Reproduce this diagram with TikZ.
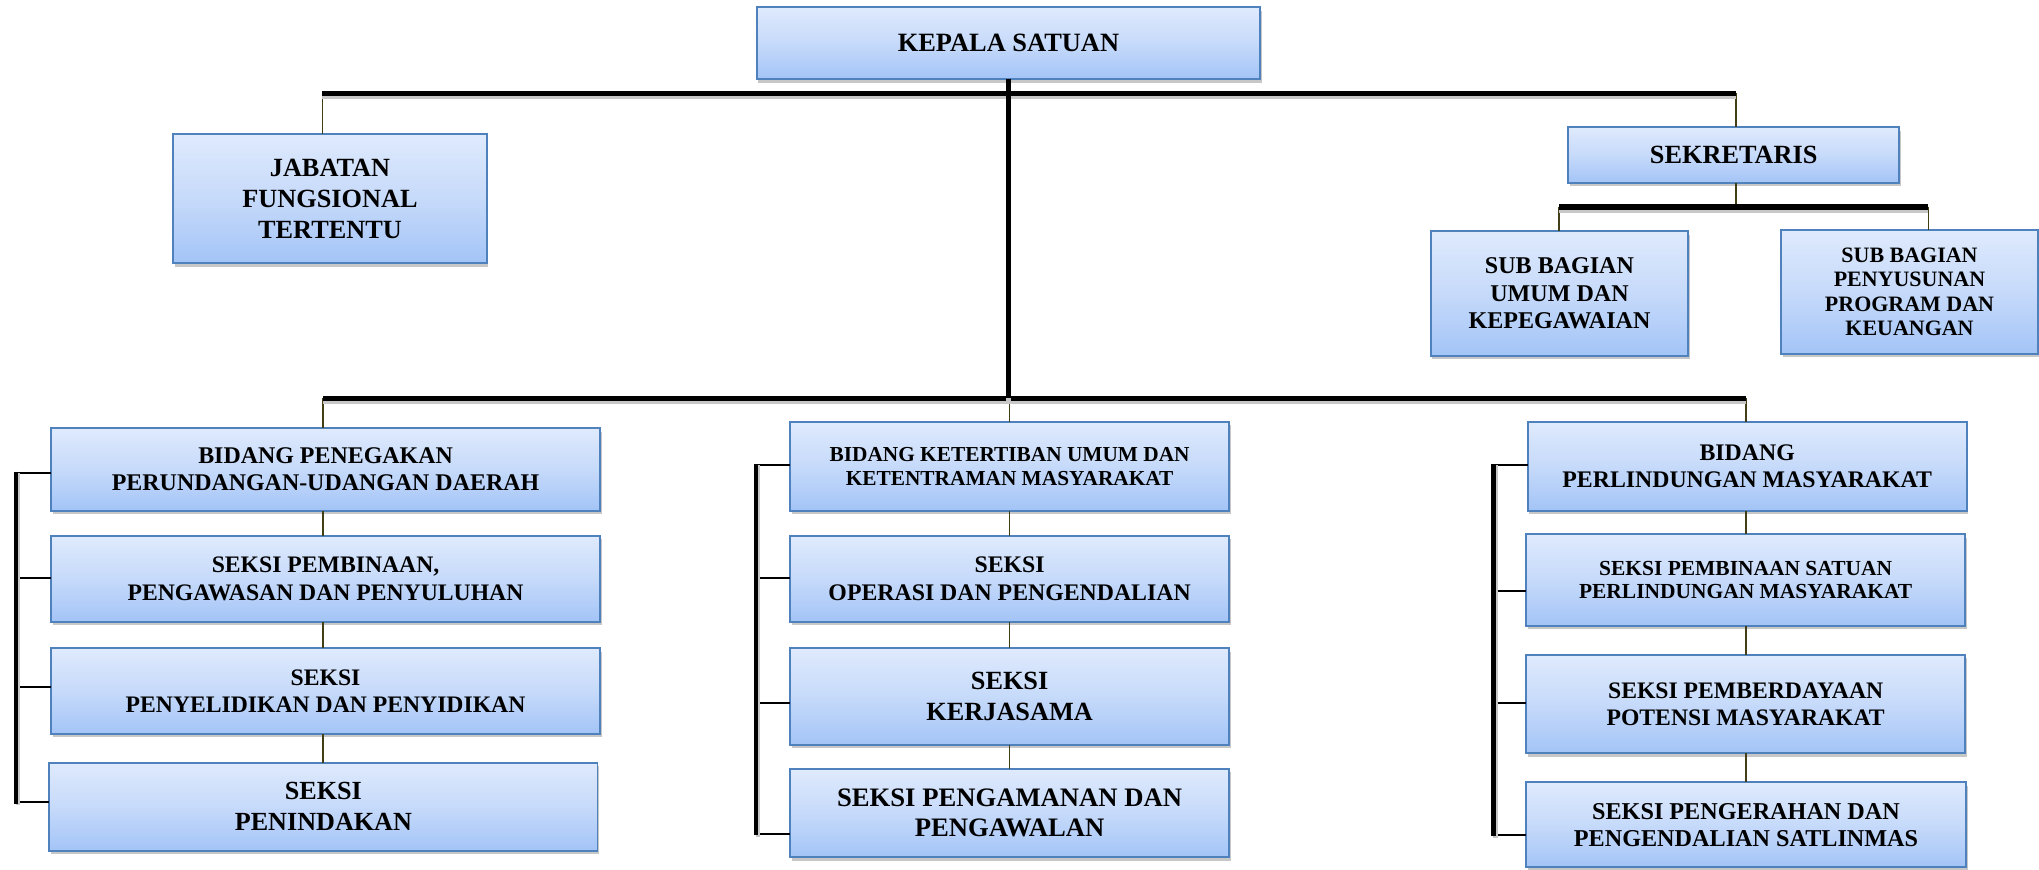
\documentclass[tikz,border=0pt]{standalone}
\usepackage{fontspec}
\setmainfont{Liberation Serif}
\usetikzlibrary{shadows}
\definecolor{boxtop}{RGB}{223,234,253}
\definecolor{boxmid}{RGB}{198,218,250}
\definecolor{boxbot}{RGB}{163,196,247}
\definecolor{boxline}{RGB}{79,129,189}
\definecolor{conn}{RGB}{66,62,22}
\newcommand{\fsz}[2]{\fontsize{#1}{#2}\selectfont\bfseries}
\tikzset{
  orgbox/.style={draw=boxline, line width=1.4pt, top color=boxtop, bottom color=boxbot,
    middle color=boxmid, inner sep=0pt, outer sep=0pt, align=center,
    drop shadow={shadow xshift=1.2pt, shadow yshift=-2.6pt, fill=black, opacity=0.22}},
  bus/.style={line width=4.3pt, draw=black,
    preaction={draw=black!22, line width=4.3pt, transform canvas={yshift=-2.2pt}}},
  bracketline/.style={line width=3.6pt, draw=black,
    preaction={draw=black!22, line width=3.6pt, transform canvas={xshift=1.6pt,yshift=-1.2pt}}},
  tickline/.style={line width=1.7pt, draw=black},
  link/.style={line width=1.2pt, draw=conn}
}
\begin{document}
\begin{tikzpicture}[x=1pt,y=-1pt]
\useasboundingbox (0,0) rectangle (1568,669);
\fill[white] (0,0) rectangle (1568,669);

% ---------- top level ----------
\node[orgbox, minimum width=387pt, minimum height=55.4pt, font=\fsz{20.3}{23.7}]
  (kepala) at (775.5,33.3) {KEPALA SATUAN};
\node[orgbox, minimum width=240.9pt, minimum height=99.2pt, font=\fsz{20.2}{23.7}]
  (jab) at (253.75,152.9) {JABATAN\\FUNGSIONAL\\TERTENTU};
\node[orgbox, minimum width=254.4pt, minimum height=42.8pt, font=\fsz{20.2}{23.7}]
  (sek) at (1333.2,119.3) {SEKRETARIS};
\node[orgbox, minimum width=198.1pt, minimum height=95.6pt, font=\fsz{18.5}{21.2}]
  (subumum) at (1199.25,225.7) {SUB BAGIAN\\UMUM DAN\\KEPEGAWAIAN};
\node[orgbox, minimum width=197.2pt, minimum height=95.6pt, font=\fsz{16.9}{18.6}]
  (subprog) at (1468.4,224.4) {SUB BAGIAN\\PENYUSUNAN\\PROGRAM DAN\\KEUANGAN};

% ---------- left column ----------
\node[orgbox, minimum width=422.3pt, minimum height=63.3pt, font=\fsz{18.4}{20.8}]
  (L1) at (250.35,361.05) {BIDANG PENEGAKAN\\PERUNDANGAN-UDANGAN DAERAH};
\node[orgbox, minimum width=422.3pt, minimum height=65.8pt, font=\fsz{18.2}{21.2}]
  (L2) at (250.35,445.1) {SEKSI PEMBINAAN,\\PENGAWASAN DAN PENYULUHAN};
\node[orgbox, minimum width=422.3pt, minimum height=65.9pt, font=\fsz{18.2}{20.5}]
  (L3) at (250.35,531.55) {SEKSI\\PENYELIDIKAN DAN PENYIDIKAN};
\node[orgbox, minimum width=421.6pt, minimum height=67.9pt, font=\fsz{20.1}{23.9}]
  (L4) at (248.7,620.45) {SEKSI\\PENINDAKAN};

% ---------- middle column ----------
\node[orgbox, minimum width=337.8pt, minimum height=68.2pt, font=\fsz{16.4}{18.5}]
  (M1) at (776.4,358.6) {BIDANG KETERTIBAN UMUM DAN\\KETENTRAMAN MASYARAKAT};
\node[orgbox, minimum width=337.8pt, minimum height=65.8pt, font=\fsz{18.3}{21.2}]
  (M2) at (776.4,445.1) {SEKSI\\OPERASI DAN PENGENDALIAN};
\node[orgbox, minimum width=337.8pt, minimum height=74.3pt, font=\fsz{20.2}{23.8}]
  (M3) at (776.4,535.75) {SEKSI\\KERJASAMA};
\node[orgbox, minimum width=337.8pt, minimum height=68.2pt, font=\fsz{20.5}{23}]
  (M4) at (776.4,625.2) {SEKSI PENGAMANAN DAN\\PENGAWALAN};

% ---------- right column ----------
\node[orgbox, minimum width=337.6pt, minimum height=68.2pt, font=\fsz{18.3}{21.3}]
  (R1) at (1343.6,358.6) {BIDANG\\PERLINDUNGAN MASYARAKAT};
\node[orgbox, minimum width=337.8pt, minimum height=70.2pt, font=\fsz{16.5}{18.4}]
  (R2) at (1342.4,446) {SEKSI PEMBINAAN SATUAN\\PERLINDUNGAN MASYARAKAT};
\node[orgbox, minimum width=337.8pt, minimum height=75.6pt, font=\fsz{18.2}{20.5}]
  (R3) at (1342.4,541.5) {SEKSI PEMBERDAYAAN\\POTENSI MASYARAKAT};
\node[orgbox, minimum width=338.4pt, minimum height=65.4pt, font=\fsz{18.6}{20.6}]
  (R4) at (1342.7,634.3) {SEKSI PENGERAHAN DAN\\PENGENDALIAN SATLINMAS};

% ---------- bus coordinates ----------
\coordinate (tl) at (248,71.8);
\coordinate (tr) at (1335,71.8);
\coordinate (bl) at (248.6,306.3);
\coordinate (br) at (1342.8,306.3);
\coordinate (sl) at (1198.9,159.4);
\coordinate (sr) at (1483,159.4);

% ---------- thin connectors ----------
\draw[link] (tl) -- (tl |- jab.north);
\draw[link] (tr) -- (tr |- sek.north);
\draw[link] (sek.south -| tr) -- (sl -| tr);
\draw[link] (sl) -- (sl |- subumum.north);
\draw[link] (sr) -- (sr |- subprog.north);

\draw[link] (bl) -- (bl |- L1.north);
\draw[link] (L1.south -| bl) -- (L2.north -| bl);
\draw[link] (L2.south -| bl) -- (L3.north -| bl);
\draw[link] (L3.south -| bl) -- (L4.north -| bl);

\draw[link] (M1.north |- bl) -- (M1.north);
\draw[link] (M1.south) -- (M2.north);
\draw[link] (M2.south) -- (M3.north);
\draw[link] (M3.south) -- (M4.north);

\draw[link] (br) -- (br |- R1.north);
\draw[link] (R1.south -| br) -- (R2.north -| br);
\draw[link] (R2.south -| br) -- (R3.north -| br);
\draw[link] (R3.south -| br) -- (R4.north -| br);

% ---------- thick buses ----------
\draw[bus] (tl) -- (tr);
\draw[bus] (bl) -- (br);
\draw[bus] (sl) -- (sr);
\draw[bus] (kepala.south) -- (kepala.south |- bl);

% ---------- side brackets ----------
\coordinate (la) at (12.3,363.5);
\coordinate (lb) at (12.3,444.2);
\coordinate (lc) at (12.3,528.5);
\coordinate (ld) at (12.3,617.0);
\draw[tickline] (la) -- (la -| L1.west);
\draw[tickline] (lb) -- (lb -| L2.west);
\draw[tickline] (lc) -- (lc -| L3.west);
\draw[tickline] (ld) -- (ld -| L4.west);
\draw[bracketline] ([yshift=0.9pt]la) -- ([yshift=-0.9pt]ld);

\coordinate (ma) at (581.4,357.6);
\coordinate (mb) at (581.4,444.2);
\coordinate (mc) at (581.4,540.9);
\coordinate (md) at (581.4,641.3);
\draw[tickline] (ma) -- (ma -| M1.west);
\draw[tickline] (mb) -- (mb -| M2.west);
\draw[tickline] (mc) -- (mc -| M3.west);
\draw[tickline] (md) -- (md -| M4.west);
\draw[bracketline] ([yshift=0.9pt]ma) -- ([yshift=-0.9pt]md);

\coordinate (ra) at (1148.4,357.6);
\coordinate (rb) at (1148.4,454.2);
\coordinate (rc) at (1148.4,540.3);
\coordinate (rd) at (1148.4,642.1);
\draw[tickline] (ra) -- (ra -| R1.west);
\draw[tickline] (rb) -- (rb -| R2.west);
\draw[tickline] (rc) -- (rc -| R3.west);
\draw[tickline] (rd) -- (rd -| R4.west);
\draw[bracketline] ([yshift=0.9pt]ra) -- ([yshift=-0.9pt]rd);
\end{tikzpicture}
\end{document}
